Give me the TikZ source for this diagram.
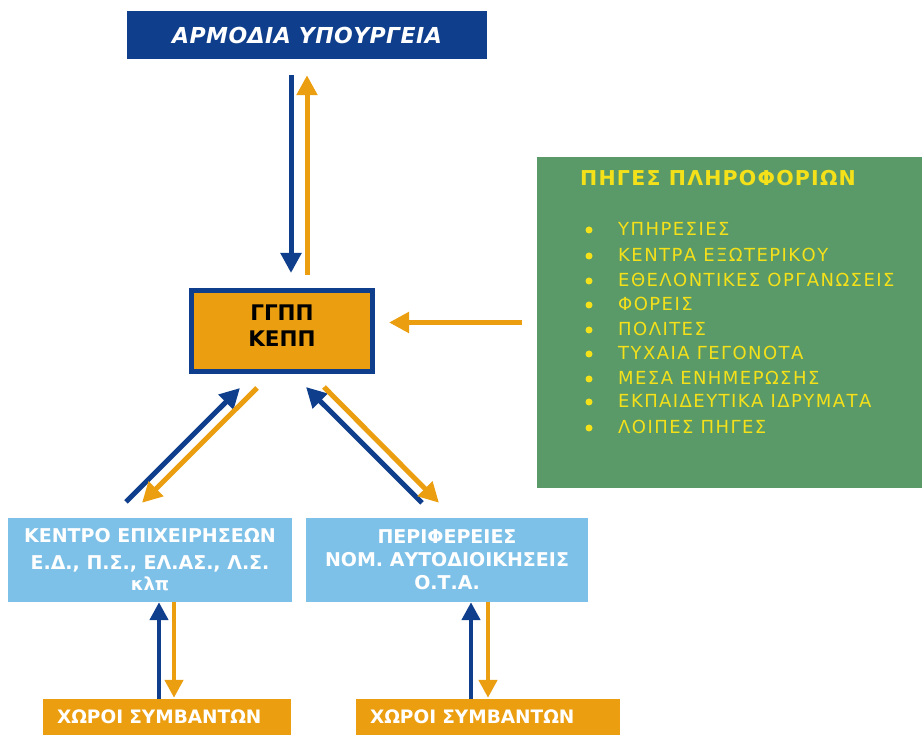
\documentclass[tikz,border=0pt]{standalone}
\usepackage{fontspec}
\setmainfont{DejaVu Sans}
\newfontfamily\lsB[LetterSpace=8]{DejaVu Sans}
\newfontfamily\lsC[LetterSpace=6]{DejaVu Sans}
\newfontfamily\lsD[LetterSpace=2]{DejaVu Sans}
\usetikzlibrary{arrows.meta}
\definecolor{dblue}{HTML}{0F3F8C}
\definecolor{orng}{HTML}{EB9E10}
\definecolor{lblue}{HTML}{7DC1E8}
\definecolor{grn}{HTML}{5A9A68}
\definecolor{yel}{HTML}{F5E11A}
\begin{document}
\begin{tikzpicture}[x=1pt,y=-1pt,
  arr/.style={line width=5pt,-{Triangle[width=20pt,length=20pt]}},
  barr/.style={arr,draw=dblue},
  oarr/.style={arr,draw=orng},
  sarr/.style={line width=4.5pt,-{Triangle[width=18pt,length=18pt]}},
  sbarr/.style={sarr,draw=dblue},
  soarr/.style={sarr,draw=orng},
  box/.style={inner sep=0pt,align=center},
  lbox/.style={box,fill=lblue,minimum height=84pt,text=white},
  xbox/.style={fill=orng,inner ysep=0pt,inner xsep=14pt,align=left,minimum height=36pt,
    text=white,font=\fontsize{18.5}{20}\selectfont\bfseries},
  item/.style={anchor=base west,inner sep=0pt,text=yel,font=\lsB\fontsize{18}{20}\selectfont},
  dot/.style={fill=yel}
]
\useasboundingbox (0,0) rectangle (922,735);

\node[box,fill=dblue,minimum width=360pt,minimum height=48pt,text=white,
  font=\lsD\fontsize{22}{24}\selectfont\bfseries\itshape] (top) at (307,35) {ΑΡΜΟΔΙΑ ΥΠΟΥΡΓΕΙΑ};

\node[box,fill=orng,draw=dblue,line width=5pt,minimum width=181pt,minimum height=81pt] (ggpp) at (282,331) {};
\node[box,font=\fontsize{21.5}{26}\selectfont\bfseries] (ggppt) at (282,326) {ΓΓΠΠ\\ΚΕΠΠ};

\node[box,fill=grn,minimum width=385pt,minimum height=331pt] (src) at (729.5,322.5) {};
\node[anchor=base west,inner sep=0pt,text=yel,font=\lsC\fontsize{20.5}{22}\selectfont\bfseries] (srct) at (580,186) {ΠΗΓΕΣ ΠΛΗΡΟΦΟΡΙΩΝ};
\foreach \t/\y [count=\i] in {ΥΠΗΡΕΣΙΕΣ/236,ΚΕΝΤΡΑ ΕΞΩΤΕΡΙΚΟΥ/262,ΕΘΕΛΟΝΤΙΚΕΣ ΟΡΓΑΝΩΣΕΙΣ/287,ΦΟΡΕΙΣ/311,ΠΟΛΙΤΕΣ/336,ΤΥΧΑΙΑ ΓΕΓΟΝΟΤΑ/360,ΜΕΣΑ ΕΝΗΜΕΡΩΣΗΣ/385,ΕΚΠΑΙΔΕΥΤΙΚΑ ΙΔΡΥΜΑΤΑ/408,ΛΟΙΠΕΣ ΠΗΓΕΣ/434}{
  \node[item] (it\i) at (618,\y) {\t};
  \fill[dot] (589,\y-6) circle (3.5pt);
}

\node[lbox,minimum width=284pt,font=\fontsize{19}{27}\selectfont\bfseries] (ke) at (150,560)
  {ΚΕΝΤΡΟ ΕΠΙΧΕΙΡΗΣΕΩΝ\\Ε.Δ., Π.Σ., ΕΛ.ΑΣ., Λ.Σ.\\[-6pt]{\fontsize{18}{18}\selectfont κλπ}};
\node[lbox,minimum width=282pt,font=\fontsize{19}{23}\selectfont\bfseries] (per) at (447,560)
  {ΠΕΡΙΦΕΡΕΙΕΣ\\ΝΟΜ. ΑΥΤΟΔΙΟΙΚΗΣΕΙΣ\\Ο.Τ.Α.};

\node[xbox,text width=220pt] (xl) at (167,717) {ΧΩΡΟΙ ΣΥΜΒΑΝΤΩΝ};
\node[xbox,text width=236pt] (xr) at (488,717) {ΧΩΡΟΙ ΣΥΜΒΑΝΤΩΝ};

% top <-> ggpp
\draw[barr] ([xshift=-16pt,yshift=-16pt]top.south) -- ([xshift=9pt,yshift=15pt]ggpp.north);
\draw[oarr] ([xshift=25pt,yshift=13pt]ggpp.north) -- ([yshift=-16pt]top.south);
% sources -> ggpp
\draw[oarr] ([xshift=-15pt]src.west) -- ([xshift=14pt,yshift=8.5pt]ggpp.east);
% ke <-> ggpp
\draw[barr] ([xshift=-24pt,yshift=16pt]ke.north) -- ([xshift=-42pt,yshift=-14pt]ggpp.south);
\draw[oarr] ([xshift=-25pt,yshift=-14pt]ggpp.south) -- ([xshift=-8pt,yshift=15pt]ke.north);
% per <-> ggpp
\draw[barr] ([xshift=-25pt,yshift=15pt]per.north) -- ([xshift=24pt,yshift=-13pt]ggpp.south);
\draw[oarr] ([xshift=42pt,yshift=-13pt]ggpp.south) -- ([xshift=-8pt,yshift=15pt]per.north);
% bottom
\draw[sbarr] ([xshift=-8pt]xl.north) -- ([xshift=9pt]ke.south);
\draw[soarr] ([xshift=24pt]ke.south) -- ([xshift=7pt,yshift=1pt]xl.north);
\draw[sbarr] ([xshift=-17pt]xr.north) -- ([xshift=24pt]per.south);
\draw[soarr] ([xshift=41pt]per.south) -- ([yshift=1pt]xr.north);
\end{tikzpicture}
\end{document}
